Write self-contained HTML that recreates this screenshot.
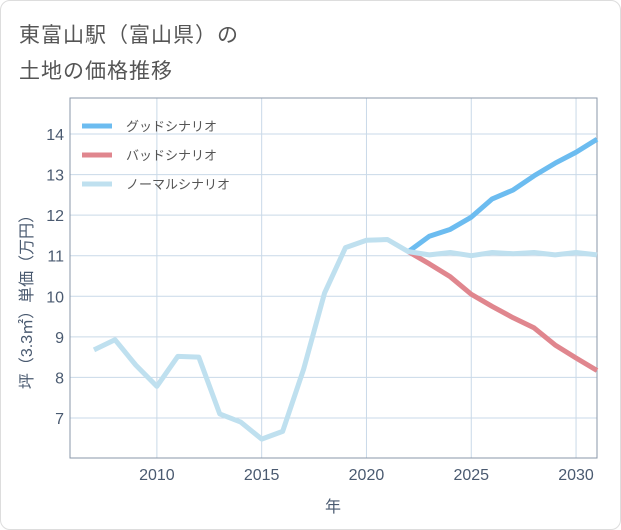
<!DOCTYPE html>
<html><head><meta charset="utf-8"><style>
body{margin:0;background:#fff;font-family:"Liberation Sans","Noto Sans CJK JP",sans-serif}
#card{position:absolute;left:0;top:0;width:619px;height:528px;border:1px solid #ddd;border-radius:10px;background:#fff}
.t{position:absolute;left:18px;font-size:21px;color:#555;letter-spacing:1px}
</style></head><body>
<div id="card">
<div class="t" style="top:18px">東富山駅（富山県）の</div>
<div class="t" style="top:54px">土地の価格推移</div>
</div>
<svg id="ch" width="621" height="530" style="position:absolute;left:0;top:0"></svg>
<script>
const years=[2007,2008,2009,2010,2011,2012,2013,2014,2015,2016,2017,2018,2019,2020,2021,2022,2023,2024,2025,2026,2027,2028,2029,2030,2031];
const normal=[8.68,8.93,8.3,7.78,8.52,8.5,7.1,6.9,6.48,6.67,8.2,10.08,11.2,11.38,11.4,11.1,11.02,11.08,11.0,11.08,11.05,11.08,11.02,11.08,11.02];
const goodYears=[2022,2023,2024,2025,2026,2027,2028,2029,2030,2031];
const good=[11.1,11.48,11.65,11.95,12.4,12.62,12.97,13.28,13.55,13.87];
const bad=[11.1,10.8,10.48,10.05,9.75,9.47,9.22,8.8,8.48,8.17];
const xTicks=[2010,2015,2020,2025,2030];
const yTicks=[7,8,9,10,11,12,13,14];
const L=70,R=597,T=98,B=458;
const x=v=>94+(v-2007)*(597-94)/24;
const y=v=>418-(v-7)*(418-134)/7;
const s=document.getElementById('ch'),NS='http://www.w3.org/2000/svg';
function mk(t,a,p){const e=document.createElementNS(NS,t);for(const k in a)e.setAttribute(k,a[k]);(p||s).appendChild(e);return e;}
xTicks.forEach(v=>{const g=mk('line',{x1:x(v),x2:x(v),y1:T,y2:B,stroke:'#c9d9e8','stroke-width':1});


const t=mk('text',{x:x(v),y:B+22,'text-anchor':'middle','font-size':16,fill:'#4a5a70'});t.textContent=v;

});
yTicks.forEach(v=>{const g=mk('line',{x1:L,x2:R,y1:y(v),y2:y(v),stroke:'#c9d9e8','stroke-width':1});


const t=mk('text',{x:L-6,y:y(v)+6,'text-anchor':'end','font-size':16,fill:'#4a5a70'});t.textContent=v;

});
const fr=mk('rect',{x:L,y:T,width:R-L,height:B-T,fill:'none',stroke:'#8a97a8','stroke-width':1});


function line(xs,vs,c,n){const p=mk('polyline',{points:xs.map((v,i)=>x(v)+','+y(vs[i])).join(' '),fill:'none',stroke:c,'stroke-width':5,'stroke-linejoin':'round'});

}
line(goodYears,good,'#6cbcf0','good-scenario-line');
line(goodYears,bad,'#e0868e','bad-scenario-line');
line(years,normal,'#bfe0ef','normal-scenario-line');
const leg=[['グッドシナリオ','#6cbcf0'],['バッドシナリオ','#e0868e'],['ノーマルシナリオ','#bfe0ef']];
leg.forEach((l,i)=>{const yy=126+i*29;
const r=mk('line',{x1:82,x2:112,y1:yy,y2:yy,stroke:l[1],'stroke-width':5});


const t=mk('text',{x:126,y:yy+5,'font-size':13,fill:'#555'});t.textContent=l[0];

});
const xt=mk('text',{x:333,y:512,'text-anchor':'middle','font-size':16,fill:'#4a5a70'});xt.textContent='年';


const yt=mk('text',{x:0,y:0,'text-anchor':'middle','font-size':16,fill:'#4a5a70',transform:'translate(32,298) rotate(-90)'});yt.textContent='坪（3.3㎡）単価（万円）';


</script>
</body></html>
